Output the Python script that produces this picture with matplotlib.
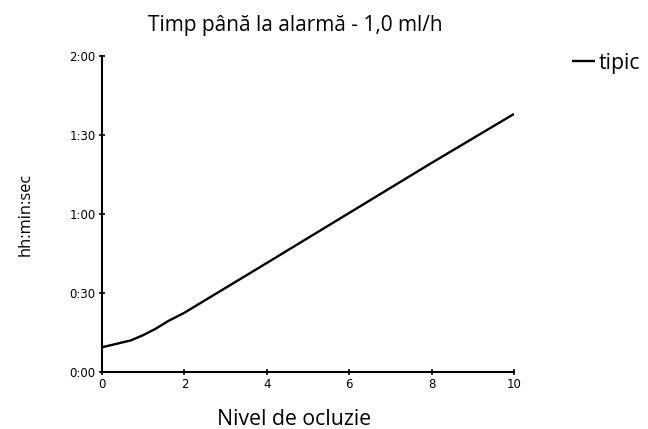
import matplotlib
matplotlib.use("Agg")
import matplotlib.pyplot as plt
from matplotlib.ticker import FuncFormatter

# Occlusion level vs. time to alarm (minutes), typical curve
occlusion_level = [0, 0.3, 0.7, 1.0, 1.3, 1.6, 2, 4, 6, 8, 10]
minutes_to_alarm = [9.4, 10.5, 12.0, 14.0, 16.4, 19.3, 22.5, 41.4, 60.4, 79.4, 98.0]

x_ticks = [0, 2, 4, 6, 8, 10]
y_ticks = [0, 30, 60, 90, 120]

fig = plt.figure(figsize=(6.48, 4.29), dpi=100)
ax = fig.add_axes([102 / 648, 1 - 372 / 429, (514 - 102) / 648, (372 - 56) / 429])

ax.plot(occlusion_level, minutes_to_alarm, color="black", lw=1.7,
        solid_capstyle="butt", solid_joinstyle="round", label="tipic")

ax.set_xlim(0, 10)
ax.set_ylim(0, 120)
ax.set_xticks(x_ticks)
ax.set_yticks(y_ticks)
ax.yaxis.set_major_formatter(FuncFormatter(lambda v, p: f"{int(v // 60)}:{int(v % 60):02d}"))

for s in ("top", "right"):
    ax.spines[s].set_visible(False)
for s in ("left", "bottom"):
    ax.spines[s].set_linewidth(1.5)
ax.tick_params(direction="inout", length=5, width=1.2, labelsize=8.5, pad=2)
for lbl in ax.get_xticklabels() + ax.get_yticklabels():
    lbl.set_fontfamily("DejaVu Sans")

fig.text(295 / 648, 1 - 31 / 429, "Timp până la alarmă - 1,0 ml/h", ha="center", va="baseline",
         fontsize=15, family="Open Sans")
fig.text(294 / 648, 1 - 425 / 429, "Nivel de ocluzie", ha="center", va="baseline",
         fontsize=15.3, family="Open Sans")
fig.text(26 / 648, 1 - 214 / 429, "hh:min:sec", ha="center", va="center", rotation=90,
         fontsize=11.8, family="Open Sans")

fig.legend(loc="center left", bbox_to_anchor=(572 / 648, 1 - 63 / 429), frameon=False,
           handlelength=1.08, handletextpad=0.15, borderpad=0, borderaxespad=0,
           prop={"family": "Open Sans", "size": 15.3})

fig.savefig("out.png", dpi=100)
